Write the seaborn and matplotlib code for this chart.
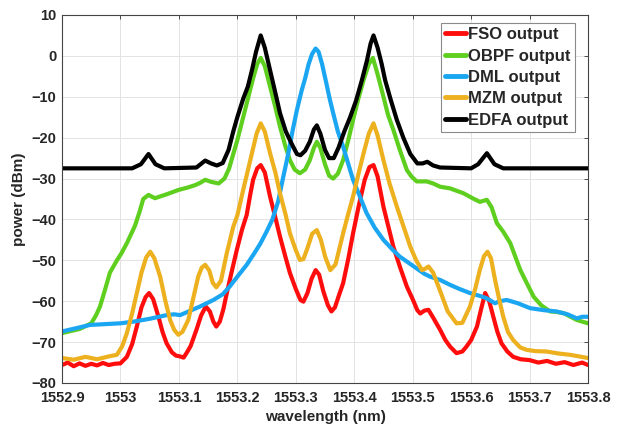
import matplotlib
matplotlib.use("Agg")
import matplotlib.pyplot as plt
import numpy as np
import pandas as pd
import seaborn as sns

# ---------------- data (wavelength nm, power dBm) ----------------
SERIES = ["FSO output", "OBPF output", "DML output", "MZM output", "EDFA output"]
COLORS = ["#FF0D0D", "#5FCF1F", "#1BA6F2", "#EDB120", "#000000"]

FSO = [
    (1552.900, -75.6), (1552.910, -75.0), (1552.920, -75.9), (1552.930, -75.2), (1552.940, -75.8),
    (1552.950, -75.3), (1552.960, -75.7), (1552.970, -75.1), (1552.980, -75.6), (1552.990, -75.3),
    (1553.000, -75.2), (1553.011, -73.6), (1553.020, -70.5), (1553.028, -66.2), (1553.036, -61.5),
    (1553.043, -59.0), (1553.049, -58.0), (1553.056, -59.5), (1553.065, -63.8), (1553.072, -67.5),
    (1553.079, -70.3), (1553.088, -72.5), (1553.095, -73.3), (1553.102, -73.5), (1553.108, -73.8),
    (1553.113, -72.7), (1553.120, -71.0), (1553.130, -67.0), (1553.138, -63.5), (1553.146, -61.3),
    (1553.153, -62.5), (1553.159, -65.0), (1553.164, -66.2), (1553.170, -65.0), (1553.176, -62.0),
    (1553.182, -58.0), (1553.190, -53.0), (1553.199, -47.5), (1553.208, -42.5), (1553.216, -38.9),
    (1553.222, -34.0), (1553.227, -30.3), (1553.234, -27.5), (1553.240, -26.7), (1553.247, -28.5),
    (1553.256, -34.4), (1553.265, -39.5), (1553.273, -44.2), (1553.282, -49.0), (1553.290, -53.1),
    (1553.300, -57.0), (1553.308, -59.7), (1553.313, -60.1), (1553.320, -58.0), (1553.327, -54.5),
    (1553.334, -52.4), (1553.340, -53.5), (1553.347, -57.5), (1553.355, -61.0), (1553.361, -62.5),
    (1553.367, -61.5), (1553.374, -58.5), (1553.381, -55.6), (1553.390, -49.5), (1553.398, -43.4),
    (1553.408, -36.5), (1553.418, -30.3), (1553.426, -27.2), (1553.433, -26.7), (1553.440, -29.5),
    (1553.450, -36.9), (1553.458, -41.5), (1553.467, -46.7), (1553.478, -51.5), (1553.490, -56.4),
    (1553.500, -59.5), (1553.508, -62.2), (1553.513, -63.0), (1553.520, -62.3), (1553.527, -62.1),
    (1553.535, -64.0), (1553.547, -67.0), (1553.556, -69.5), (1553.564, -71.1), (1553.575, -72.7),
    (1553.585, -72.3), (1553.592, -71.1), (1553.600, -69.5), (1553.610, -66.2), (1553.617, -62.0),
    (1553.624, -58.0), (1553.631, -60.0), (1553.638, -63.8), (1553.645, -67.5), (1553.652, -70.3),
    (1553.662, -72.3), (1553.672, -73.6), (1553.685, -74.2), (1553.700, -74.4), (1553.715, -75.0),
    (1553.730, -74.6), (1553.745, -75.3), (1553.760, -74.9), (1553.775, -75.6), (1553.790, -75.0),
    (1553.800, -75.6),
]

OBPF = [
    (1552.900, -67.8), (1552.930, -66.8), (1552.950, -65.4), (1552.958, -63.5), (1552.965, -61.3),
    (1552.974, -57.0), (1552.982, -53.0), (1552.994, -50.0), (1553.002, -48.2), (1553.011, -45.8),
    (1553.025, -41.5), (1553.033, -38.0), (1553.039, -35.0), (1553.048, -34.0), (1553.059, -34.8),
    (1553.080, -33.8), (1553.099, -32.8), (1553.115, -32.2), (1553.128, -31.6), (1553.137, -31.0),
    (1553.145, -30.3), (1553.155, -30.8), (1553.168, -31.2), (1553.178, -30.0), (1553.186, -27.5),
    (1553.193, -24.0), (1553.200, -20.6), (1553.210, -15.0), (1553.218, -10.5), (1553.227, -5.5),
    (1553.234, -2.0), (1553.240, -0.5), (1553.247, -2.5), (1553.256, -7.5), (1553.265, -12.5),
    (1553.273, -17.3), (1553.282, -22.0), (1553.290, -25.5), (1553.298, -27.8), (1553.307, -28.7),
    (1553.316, -27.8), (1553.324, -25.5), (1553.331, -22.5), (1553.336, -21.0), (1553.342, -22.5),
    (1553.350, -26.5), (1553.357, -29.3), (1553.364, -30.0), (1553.372, -28.8), (1553.381, -25.5),
    (1553.390, -20.5), (1553.398, -15.7), (1553.407, -10.5), (1553.416, -5.9), (1553.425, -2.0),
    (1553.432, -0.5), (1553.440, -4.5), (1553.450, -10.0), (1553.458, -14.5), (1553.467, -18.1),
    (1553.478, -23.0), (1553.490, -27.9), (1553.498, -29.5), (1553.507, -30.7), (1553.515, -30.7),
    (1553.524, -30.7), (1553.535, -31.2), (1553.547, -32.0), (1553.564, -32.4), (1553.587, -33.6),
    (1553.605, -35.0), (1553.615, -35.7), (1553.627, -35.2), (1553.635, -37.0), (1553.644, -40.9),
    (1553.655, -43.0), (1553.667, -45.8), (1553.684, -52.3), (1553.695, -55.5), (1553.707, -58.9),
    (1553.720, -61.0), (1553.735, -62.5), (1553.745, -62.6), (1553.758, -62.9), (1553.781, -64.6),
    (1553.800, -65.4),
]

DML = [
    (1552.900, -67.4), (1552.948, -65.8), (1553.000, -65.4), (1553.022, -65.0), (1553.050, -64.3),
    (1553.079, -63.4), (1553.092, -63.2), (1553.102, -63.4), (1553.115, -62.6), (1553.136, -61.3),
    (1553.159, -59.7), (1553.175, -58.3), (1553.187, -56.4), (1553.200, -54.0), (1553.216, -51.1),
    (1553.228, -48.5), (1553.239, -46.0), (1553.250, -43.0), (1553.260, -40.0), (1553.270, -35.5),
    (1553.278, -30.0), (1553.287, -24.0), (1553.295, -18.0), (1553.302, -13.2), (1553.310, -8.5),
    (1553.316, -5.5), (1553.322, -2.0), (1553.328, 0.5), (1553.334, 1.8), (1553.339, 1.0),
    (1553.345, -2.0), (1553.352, -6.5), (1553.358, -10.5), (1553.364, -14.0), (1553.372, -18.5),
    (1553.381, -22.2), (1553.390, -26.5), (1553.398, -30.3), (1553.410, -34.5), (1553.421, -38.4),
    (1553.435, -42.0), (1553.450, -45.0), (1553.465, -47.3), (1553.478, -49.1), (1553.492, -50.5),
    (1553.507, -52.0), (1553.520, -53.3), (1553.530, -54.0), (1553.547, -54.8), (1553.564, -56.0),
    (1553.580, -57.0), (1553.598, -58.0), (1553.615, -58.7), (1553.627, -59.3), (1553.635, -60.0),
    (1553.641, -60.5), (1553.648, -60.0), (1553.661, -59.7), (1553.680, -60.5), (1553.701, -61.7),
    (1553.725, -62.2), (1553.746, -62.5), (1553.765, -63.2), (1553.781, -64.2), (1553.790, -63.8),
    (1553.800, -63.8),
]

MZM = [
    (1552.900, -73.9), (1552.920, -74.3), (1552.940, -73.6), (1552.960, -74.2), (1552.980, -73.5),
    (1552.994, -73.1), (1553.003, -71.0), (1553.011, -67.8), (1553.020, -63.0), (1553.028, -58.0),
    (1553.036, -53.0), (1553.044, -49.3), (1553.051, -47.9), (1553.058, -49.5), (1553.068, -54.0),
    (1553.077, -60.0), (1553.085, -64.6), (1553.092, -67.0), (1553.099, -68.2), (1553.106, -67.5),
    (1553.116, -64.6), (1553.125, -59.0), (1553.133, -54.0), (1553.139, -51.8), (1553.145, -51.1),
    (1553.152, -52.5), (1553.158, -55.5), (1553.164, -56.6), (1553.172, -55.0), (1553.182, -48.2),
    (1553.193, -41.8), (1553.200, -39.0), (1553.210, -32.8), (1553.218, -28.0), (1553.225, -23.8),
    (1553.233, -19.0), (1553.240, -16.5), (1553.247, -18.5), (1553.256, -23.8), (1553.265, -28.5),
    (1553.273, -33.6), (1553.282, -38.5), (1553.290, -43.4), (1553.300, -47.5), (1553.307, -49.9),
    (1553.313, -49.7), (1553.320, -47.0), (1553.328, -43.5), (1553.336, -42.6), (1553.343, -45.0),
    (1553.350, -49.0), (1553.359, -52.4), (1553.368, -51.0), (1553.381, -43.4), (1553.390, -38.5),
    (1553.398, -34.4), (1553.407, -29.0), (1553.416, -23.8), (1553.425, -19.0), (1553.433, -16.5),
    (1553.440, -19.5), (1553.450, -25.5), (1553.460, -31.0), (1553.473, -36.9), (1553.485, -42.0),
    (1553.496, -46.7), (1553.506, -50.0), (1553.516, -52.4), (1553.522, -52.0), (1553.527, -51.5),
    (1553.535, -53.0), (1553.547, -57.5), (1553.560, -62.5), (1553.575, -65.4), (1553.585, -65.3),
    (1553.598, -61.3), (1553.607, -57.0), (1553.615, -52.3), (1553.622, -49.0), (1553.628, -47.9),
    (1553.634, -49.5), (1553.641, -54.8), (1553.648, -59.5), (1553.655, -63.8), (1553.663, -67.5),
    (1553.672, -69.5), (1553.684, -71.3), (1553.695, -71.9), (1553.710, -72.2), (1553.729, -72.3),
    (1553.750, -72.8), (1553.769, -73.1), (1553.785, -73.5), (1553.800, -73.9),
]

EDFA = [
    (1552.900, -27.5), (1553.020, -27.5), (1553.035, -26.5), (1553.048, -24.0), (1553.060, -26.5),
    (1553.075, -27.5), (1553.130, -27.3), (1553.145, -25.6), (1553.155, -26.3), (1553.165, -26.8),
    (1553.175, -26.2), (1553.185, -23.0), (1553.193, -18.5), (1553.200, -15.0), (1553.210, -10.5),
    (1553.218, -7.5), (1553.225, -3.5), (1553.232, 1.0), (1553.240, 5.0), (1553.247, 2.0),
    (1553.256, -3.5), (1553.265, -9.0), (1553.273, -14.0), (1553.283, -18.5), (1553.293, -21.5),
    (1553.302, -24.0), (1553.308, -24.3), (1553.316, -23.2), (1553.324, -21.0), (1553.331, -18.0),
    (1553.336, -17.0), (1553.342, -19.0), (1553.350, -23.0), (1553.357, -25.0), (1553.365, -25.0),
    (1553.373, -22.5), (1553.383, -18.5), (1553.393, -15.0), (1553.403, -11.0), (1553.413, -6.0),
    (1553.422, -1.0), (1553.428, 3.0), (1553.433, 5.0), (1553.440, 2.0), (1553.447, -2.0),
    (1553.453, -6.0), (1553.463, -11.0), (1553.473, -15.7), (1553.484, -20.0), (1553.496, -24.0),
    (1553.508, -26.3), (1553.517, -26.3), (1553.525, -25.9), (1553.535, -26.8), (1553.547, -27.3),
    (1553.600, -27.5), (1553.612, -26.5), (1553.627, -23.8), (1553.640, -26.5), (1553.655, -27.5),
    (1553.800, -27.5),
]

X_TICKS = [1552.9, 1553.0, 1553.1, 1553.2, 1553.3, 1553.4, 1553.5, 1553.6, 1553.7, 1553.8]
X_TICK_LABELS = ["1552.9", "1553", "1553.1", "1553.2", "1553.3", "1553.4", "1553.5",
                 "1553.6", "1553.7", "1553.8"]
Y_TICKS = [-80, -70, -60, -50, -40, -30, -20, -10, 0, 10]

# ---------------- build long table ----------------
frames = []
for name, pts in zip(SERIES, [FSO, OBPF, DML, MZM, EDFA]):
    df = pd.DataFrame(pts, columns=["wavelength", "power"])
    df["series"] = name
    frames.append(df)
data = pd.concat(frames, ignore_index=True)

# ---------------- plot ----------------
sns.set_theme(style="white")
plt.rcParams["font.family"] = ["Liberation Sans", "DejaVu Sans"]
plt.rcParams["font.weight"] = "bold"
plt.rcParams["axes.labelweight"] = "bold"

fig = plt.figure(figsize=(6.3, 4.28), dpi=100)
ax = fig.add_axes([62 / 630, 1 - 383 / 428, 526 / 630, 368 / 428])

sns.lineplot(data=data, x="wavelength", y="power", hue="series", hue_order=SERIES,
             palette=COLORS, estimator=None, sort=False, linewidth=3.0, ax=ax,
             solid_joinstyle="round", solid_capstyle="round")

ax.set_xlim(1552.9, 1553.8)
ax.set_ylim(-80, 10)
ax.set_xticks(X_TICKS)
ax.set_xticklabels(X_TICK_LABELS)
ax.set_yticks(Y_TICKS)
ax.grid(True, color="#e3e3e3", linewidth=0.7)
ax.set_axisbelow(True)
ax.tick_params(axis="both", direction="in", length=3, width=0.6, color="#333333",
               labelsize=10.5, labelcolor="#262626", top=True, right=True)
ax.tick_params(axis="x", pad=6)
ax.tick_params(axis="y", pad=4)
for lab in ax.get_xticklabels() + ax.get_yticklabels():
    lab.set_fontweight("bold")
for s in ax.spines.values():
    s.set_color("#444444")
    s.set_linewidth(0.8)

ax.set_xlabel("wavelength (nm)", fontsize=11, fontweight="bold", color="#262626", labelpad=3)
ax.set_ylabel("power (dBm)", fontsize=11, fontweight="bold", color="#262626", labelpad=4)

handles, labels = ax.get_legend_handles_labels()
leg = ax.legend(handles, labels, loc="upper right", bbox_to_anchor=(0.975, 0.978),
                handlelength=1.25, handletextpad=0.12, borderpad=0.25, labelspacing=0.38,
                fancybox=False, edgecolor="#8a8a8a", framealpha=1.0,
                prop={"size": 12, "weight": "bold"}, borderaxespad=0)
leg.get_frame().set_linewidth(0.8)
for h in leg.get_lines():
    h.set_linewidth(3.5)

fig.savefig("out.png", dpi=100)
